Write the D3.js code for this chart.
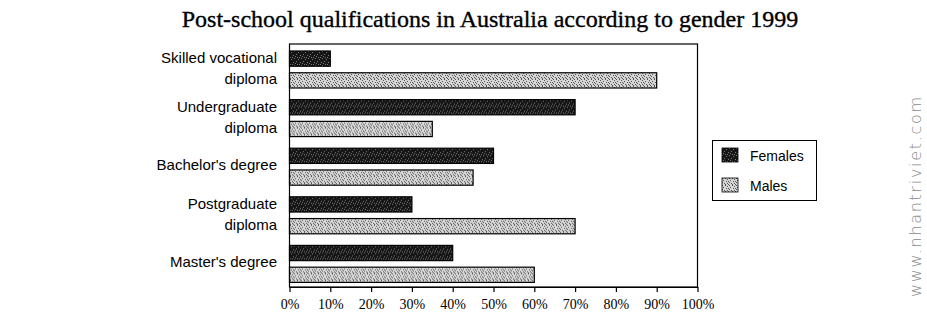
<!DOCTYPE html>
<html>
<head>
<meta charset="utf-8">
<script src="https://cdn.jsdelivr.net/npm/d3@7"></script>
<style>
  body { margin: 0; background: #fff; }
  svg { display: block; }
</style>
</head>
<body>
<script>
var width = 927;
var height = 318;

var categories = [
  ['Skilled vocational', 'diploma'],
  ['Undergraduate', 'diploma'],
  ["Bachelor's degree"],
  ['Postgraduate', 'diploma'],
  ["Master's degree"]
];
var series = ['Females', 'Males'];
var females = [10, 70, 50, 30, 40];
var males = [90, 35, 45, 70, 60];
var ticks = [0, 10, 20, 30, 40, 50, 60, 70, 80, 90, 100];

var svg = d3.select('body').append('svg')
  .attr('width', width)
  .attr('height', height);

// speckled fills
var defs = svg.append('defs');
function speckle (id, base, dot, dots) {
  var p = defs.append('pattern')
    .attr('id', id)
    .attr('patternUnits', 'userSpaceOnUse')
    .attr('width', 7).attr('height', 7);
  p.append('rect').attr('width', 7).attr('height', 7).attr('fill', base);
  dots.forEach(function (d) {
    p.append('rect').attr('x', d[0]).attr('y', d[1])
      .attr('width', 1).attr('height', 1).attr('fill', dot);
  });
}
speckle('fem', '#161616', '#7a7a7a',
  [[0, 0], [4, 1], [2, 3], [6, 4], [1, 5], [5, 6], [3, 6]]);
speckle('mal', '#d6d6d6', '#555',
  [[0, 0], [3, 0], [5, 1], [1, 2], [4, 3], [6, 3], [0, 4], [2, 5], [5, 5], [3, 6], [6, 6]]);

var fills = { Females: 'url(#fem)', Males: 'url(#mal)' };

var x = d3.scaleLinear().domain([0, 100]).range([289.5, 697.5]);
var y = d3.scaleBand().domain(d3.range(categories.length)).range([44, 287]);
var sub = d3.scaleBand().domain(series).range([7, 44]).paddingInner(0.3);

svg.append('text')
  .attr('x', 490).attr('y', 27)
  .attr('text-anchor', 'middle')
  .style('font-family', '"Liberation Serif", "Times New Roman", serif')
  .style('font-size', '24px')
  .attr('stroke', '#000').attr('stroke-width', 0.35)
  .text('Post-school qualifications in Australia according to gender 1999');

var rows = categories.map(function (c, i) {
  return { label: c, values: [
    { key: 'Females', v: females[i] },
    { key: 'Males', v: males[i] }
  ] };
});

var g = svg.selectAll('g.row').data(rows).enter().append('g')
  .attr('class', 'row')
  .attr('transform', function (d, i) { return 'translate(0,' + y(i) + ')'; });

g.selectAll('rect').data(function (d) { return d.values; }).enter().append('rect')
  .attr('x', x(0))
  .attr('y', function (d) { return sub(d.key); })
  .attr('width', function (d) { return x(d.v) - x(0); })
  .attr('height', sub.bandwidth())
  .attr('fill', function (d) { return fills[d.key]; })
  .attr('stroke', '#000')
  .attr('stroke-width', 1.2);

g.append('text')
  .attr('text-anchor', 'end')
  .attr('x', 277)
  .attr('y', function (d) { return d.label.length > 1 ? 19 : 29; })
  .style('font-family', '"Liberation Sans", Arial, sans-serif')
  .style('font-size', '15px')
  .selectAll('tspan').data(function (d) { return d.label; }).enter().append('tspan')
  .attr('x', 277)
  .attr('dy', function (d, i) { return i ? 21 : 0; })
  .text(function (d) { return d; });

// frame
svg.append('rect')
  .attr('x', x(0)).attr('y', 44)
  .attr('width', x(100) - x(0)).attr('height', 243)
  .attr('fill', 'none').attr('stroke', '#000').attr('stroke-width', 1.2);

var axis = d3.axisBottom(x).tickValues(ticks)
  .tickSize(5).tickSizeOuter(0)
  .tickFormat(function (d) { return d + '%'; });
var ax = svg.append('g').attr('transform', 'translate(0,287)').call(axis);
ax.select('.domain').attr('stroke-width', 1.2);
ax.selectAll('.tick line').attr('stroke-width', 1.2);
ax.selectAll('text')
  .attr('dy', '1em')
  .style('font-family', '"Liberation Serif", "Times New Roman", serif')
  .style('font-size', '14px')
  .attr('fill', '#000');

// legend
var lg = svg.append('g');
lg.append('rect')
  .attr('x', 712.5).attr('y', 140.5).attr('width', 104).attr('height', 60)
  .attr('fill', '#fff').attr('stroke', '#000').attr('stroke-width', 1);
var li = lg.selectAll('g.item').data(series).enter().append('g')
  .attr('transform', function (d, i) { return 'translate(722,' + (148 + i * 30) + ')'; });
li.append('rect').attr('width', 16).attr('height', 14)
  .attr('fill', function (d) { return fills[d]; })
  .attr('stroke', '#000').attr('stroke-width', 0.8);
li.append('text').attr('x', 28).attr('y', 13)
  .style('font-family', '"Liberation Sans", Arial, sans-serif')
  .style('font-size', '14px')
  .text(function (d) { return d; });

// watermark
svg.append('text')
  .attr('transform', 'translate(921,297) rotate(-90)')
  .attr('textLength', 200)
  .attr('lengthAdjust', 'spacing')
  .style('font-family', '"DejaVu Sans", sans-serif')
  .style('font-size', '16px')
  .style('font-weight', 300)
  .attr('fill', '#8a8a8a')
  .text('www.nhantriviet.com');
</script>
</body>
</html>
